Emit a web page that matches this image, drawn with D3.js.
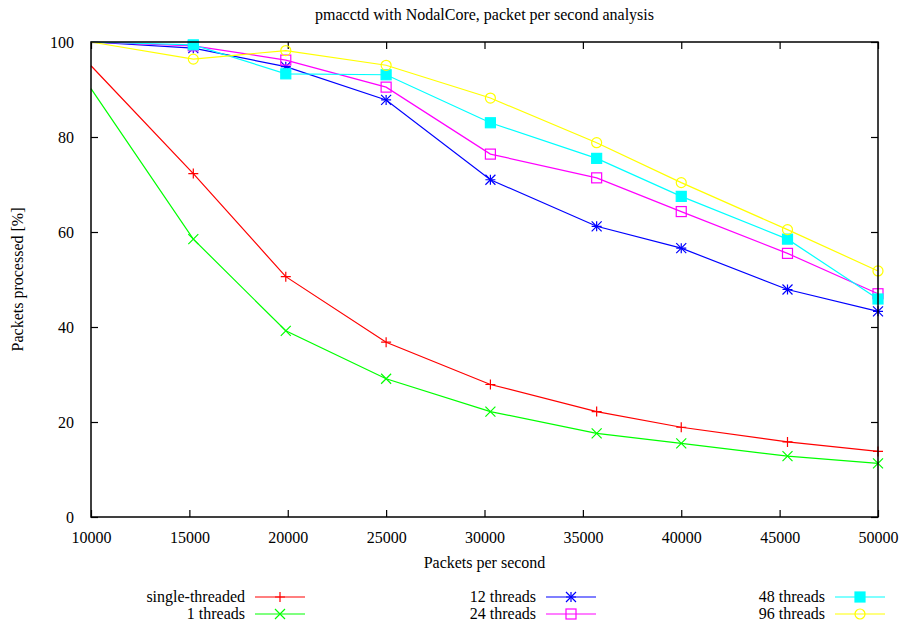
<!DOCTYPE html>
<html>
<head>
<meta charset="utf-8">
<script src="https://cdn.jsdelivr.net/npm/d3@7"></script>
<style>
  body { margin: 0; background: #fff; }
  svg text { font-family: "Liberation Serif", "Times New Roman", Times, "DejaVu Serif", serif; font-size: 16px; fill: #000; }
</style>
</head>
<body>
<div id="chart"></div>
<script>
// data
const packetRates = [10000, 15200, 19900, 25000, 30300, 35700, 40000, 45400, 50000];
const singleThreaded = [95.0, 72.3, 50.6, 36.8, 27.9, 22.2, 18.9, 15.8, 13.8];
const threads1 = [90.2, 58.5, 39.2, 29.1, 22.2, 17.6, 15.5, 12.8, 11.3];
const threads12 = [100, 98.7, 94.8, 87.8, 71.0, 61.2, 56.6, 47.9, 43.3];
const threads24 = [100, 99.2, 96.2, 90.5, 76.4, 71.4, 64.3, 55.5, 47.0];
const threads48 = [100, 99.4, 93.3, 93.1, 83.0, 75.5, 67.5, 58.5, 45.9];
const threads96 = [100, 96.4, 98.2, 95.1, 88.2, 78.8, 70.4, 60.5, 51.8];
const xTicks = [10000, 15000, 20000, 25000, 30000, 35000, 40000, 45000, 50000];
const yTicks = [0, 20, 40, 60, 80, 100];

const series = [
  {name: 'single-threaded', values: singleThreaded, color: '#ff0000', marker: 'plus'},
  {name: '1 threads', values: threads1, color: '#00ff00', marker: 'cross'},
  {name: '12 threads', values: threads12, color: '#0000ff', marker: 'star'},
  {name: '24 threads', values: threads24, color: '#ff00ff', marker: 'square'},
  {name: '48 threads', values: threads48, color: '#00ffff', marker: 'filledSquare'},
  {name: '96 threads', values: threads96, color: '#ffff00', marker: 'circle'}
];

const margin = {top: 42, right: 25, bottom: 109, left: 91},
      width = 903 - margin.left - margin.right,
      height = 626 - margin.top - margin.bottom;

const svg = d3.select('#chart').append('svg')
    .attr('width', 903)
    .attr('height', 626);

const wrapper = svg.append('g')
    .attr('transform', 'translate(' + margin.left + ',' + margin.top + ')');

const xScale = d3.scaleLinear().domain([10000, 50000]).range([0, width]),
      yScale = d3.scaleLinear().domain([0, 100]).range([height, 0]);

// marker drawing, gnuplot style point types
function drawMarker(g, type, color, x, y) {
  const s = 5;
  if (type === 'plus' || type === 'star') {
    g.append('path').attr('d', 'M' + (x - s) + ',' + y + 'H' + (x + s) + 'M' + x + ',' + (y - s) + 'V' + (y + s))
        .attr('stroke', color).attr('stroke-width', 1.2);
  }
  if (type === 'cross' || type === 'star') {
    g.append('path').attr('d', 'M' + (x - s) + ',' + (y - s) + 'L' + (x + s) + ',' + (y + s) +
        'M' + (x - s) + ',' + (y + s) + 'L' + (x + s) + ',' + (y - s))
        .attr('stroke', color).attr('stroke-width', 1.2);
  }
  if (type === 'square' || type === 'filledSquare') {
    g.append('rect').attr('x', x - s).attr('y', y - s).attr('width', 2 * s).attr('height', 2 * s)
        .attr('fill', type === 'filledSquare' ? color : 'none')
        .attr('stroke', color).attr('stroke-width', 1.2);
  }
  if (type === 'circle') {
    g.append('circle').attr('cx', x).attr('cy', y).attr('r', s)
        .attr('fill', 'none').attr('stroke', color).attr('stroke-width', 1.2);
  }
}

// axes with inward ticks on all four sides
const tickLen = 7;
wrapper.append('g')
    .attr('transform', 'translate(0,' + height + ')')
    .call(d3.axisBottom(xScale).tickValues(xTicks).tickSize(-tickLen).tickPadding(tickLen + 8).tickFormat(d3.format('d')))
    .call(g => g.select('.domain').remove())
    .call(g => g.attr('font-family', null).attr('font-size', null))
    .call(g => g.selectAll('line').attr('stroke', '#000').attr('stroke-width', 1.2));

wrapper.append('g')
    .call(d3.axisTop(xScale).tickValues(xTicks).tickSize(-tickLen).tickFormat(''))
    .call(g => g.select('.domain').remove())
    .call(g => g.selectAll('line').attr('stroke', '#000').attr('stroke-width', 1.2));

wrapper.append('g')
    .call(d3.axisLeft(yScale).tickValues(yTicks).tickSize(-tickLen).tickPadding(tickLen + 10))
    .call(g => g.select('.domain').remove())
    .call(g => g.attr('font-family', null).attr('font-size', null))
    .call(g => g.selectAll('line').attr('stroke', '#000').attr('stroke-width', 1.2));

wrapper.append('g')
    .attr('transform', 'translate(' + width + ',0)')
    .call(d3.axisRight(yScale).tickValues(yTicks).tickSize(-tickLen).tickFormat(''))
    .call(g => g.select('.domain').remove())
    .call(g => g.selectAll('line').attr('stroke', '#000').attr('stroke-width', 1.2));

const line = d3.line()
    .x(function(d, i) { return xScale(packetRates[i]); })
    .y(function(d) { return yScale(d); });

series.forEach(function(s) {
  wrapper.append('path')
      .datum(s.values)
      .attr('fill', 'none')
      .attr('stroke', s.color)
      .attr('stroke-width', 1.2)
      .attr('d', line);
  // the first points sit on the left border and carry no marker in the original
  const mg = wrapper.append('g');
  s.values.forEach(function(v, i) {
    if (i === 0) return;
    drawMarker(mg, s.marker, s.color, xScale(packetRates[i]), yScale(v));
  });
});

// plot frame
wrapper.append('rect')
    .attr('width', width)
    .attr('height', height)
    .attr('fill', 'none')
    .attr('stroke', '#000')
    .attr('stroke-width', 1.5);

// titles
svg.append('text')
    .attr('x', margin.left + width / 2)
    .attr('y', 20)
    .style('text-anchor', 'middle')
    .text('pmacctd with NodalCore, packet per second analysis');

svg.append('text')
    .attr('x', margin.left + width / 2)
    .attr('y', 568)
    .style('text-anchor', 'middle')
    .text('Packets per second');

svg.append('text')
    .attr('transform', 'translate(23,' + (margin.top + height / 2) + ') rotate(-90)')
    .style('text-anchor', 'middle')
    .text('Packets processed [%]');

// legend, three columns of two rows
const legendCols = [255, 546, 835],
      legendRows = [597, 614];

series.forEach(function(s, i) {
  const lx = legendCols[Math.floor(i / 2)],
        ly = legendRows[i % 2];
  svg.append('text')
      .attr('x', lx - 10)
      .attr('y', ly)
      .attr('dy', '0.32em')
      .style('text-anchor', 'end')
      .text(s.name);
  svg.append('line')
      .attr('x1', lx).attr('x2', lx + 50)
      .attr('y1', ly).attr('y2', ly)
      .attr('stroke', s.color)
      .attr('stroke-width', 1.2);
  drawMarker(svg, s.marker, s.color, lx + 25, ly);
});
</script>
</body>
</html>
